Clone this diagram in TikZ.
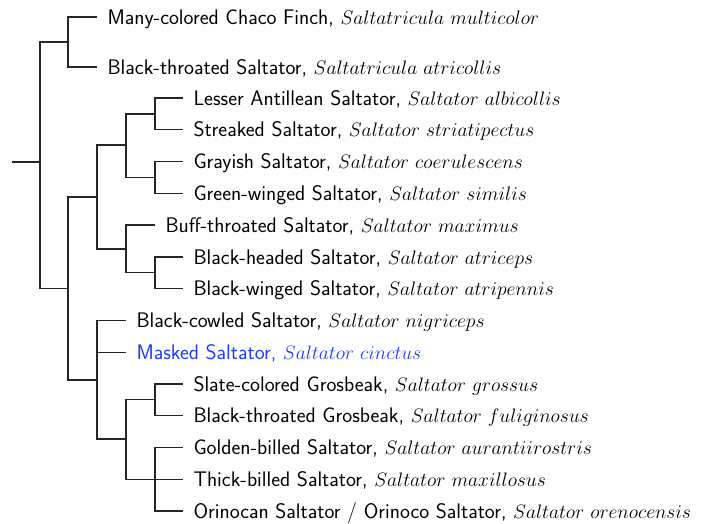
\RequirePackage{fix-cm}
\documentclass[tikz,border=0pt]{standalone}
\usepackage{fontspec}
\usepackage{xcolor}
\definecolor{maskblue}{RGB}{30,60,255}
\newcommand\sci[1]{{\fontsize{19.5}{22}\selectfont$#1$}}
\begin{document}
\begin{tikzpicture}[x=1pt,y=-1pt,
  br/.style={line width=1.3pt,draw=black!85},
  lbl/.style={anchor=base west,inner sep=0pt,font=\fontsize{21.1}{24}\selectfont\sffamily}]
\useasboundingbox (0,0) rectangle (701,524);
% internal nodes
\coordinate (root) at (12,162);
\coordinate (A) at (40,162);
\coordinate (B) at (68,42);
\coordinate (D) at (68,288.5);
\coordinate (C) at (97,197);
\coordinate (G) at (97,380);
\coordinate (E) at (126,145);
\coordinate (F) at (126,249);
\coordinate (E1) at (155,113.9);
\coordinate (E2) at (155,177.4);
\coordinate (F2) at (155,272.8);
\coordinate (H) at (126,439);
\coordinate (H1) at (155,399.8);
\coordinate (H2) at (155,479.3);
% tips
\coordinate (t1) at (97,17);
\coordinate (t2) at (97,67);
\coordinate (t3) at (183,98);
\coordinate (t4) at (183,129.8);
\coordinate (t5) at (183,161.5);
\coordinate (t6) at (183,193.3);
\coordinate (t7) at (155,225.1);
\coordinate (t8) at (183,256.9);
\coordinate (t9) at (183,288.6);
\coordinate (t10) at (126,320.4);
\coordinate (t11) at (126,352.2);
\coordinate (t12) at (183,383.9);
\coordinate (t13) at (183,415.7);
\coordinate (t14) at (183,447.5);
\coordinate (t15) at (183,479.3);
\coordinate (t16) at (183,511);
% labels
\node[lbl] (n1) at ([xshift=10.3pt,yshift=-7.1pt]t1) {Many-colored Chaco Finch, \sci{Saltatricula\ multicolor}};
\node[lbl] (n2) at ([xshift=10.3pt,yshift=-7.1pt]t2) {Black-throated Saltator, \sci{Saltatricula\ atricollis}};
\node[lbl] (n3) at ([xshift=10.3pt,yshift=-7.1pt]t3) {Lesser Antillean Saltator, \sci{Saltator\ albicollis}};
\node[lbl] (n4) at ([xshift=10.3pt,yshift=-7.1pt]t4) {Streaked Saltator, \sci{Saltator\ striatipectus}};
\node[lbl] (n5) at ([xshift=10.3pt,yshift=-7.1pt]t5) {Grayish Saltator, \sci{Saltator\ coerulescens}};
\node[lbl] (n6) at ([xshift=10.3pt,yshift=-7.1pt]t6) {Green-winged Saltator, \sci{Saltator\ similis}};
\node[lbl] (n7) at ([xshift=10.3pt,yshift=-7.1pt]t7) {Buff-throated Saltator, \sci{Saltator\ maximus}};
\node[lbl] (n8) at ([xshift=10.3pt,yshift=-7.1pt]t8) {Black-headed Saltator, \sci{Saltator\ atriceps}};
\node[lbl] (n9) at ([xshift=10.3pt,yshift=-7.1pt]t9) {Black-winged Saltator, \sci{Saltator\ atripennis}};
\node[lbl] (n10) at ([xshift=10.3pt,yshift=-7.1pt]t10) {Black-cowled Saltator, \sci{Saltator\ nigriceps}};
\node[lbl,text=maskblue] (n11) at ([xshift=10.3pt,yshift=-7.1pt]t11) {Masked Saltator, \sci{Saltator\ cinctus}};
\node[lbl] (n12) at ([xshift=10.3pt,yshift=-7.1pt]t12) {Slate-colored Grosbeak, \sci{Saltator\ grossus}};
\node[lbl] (n13) at ([xshift=10.3pt,yshift=-7.1pt]t13) {Black-throated Grosbeak, \sci{Saltator\ fuliginosus}};
\node[lbl] (n14) at ([xshift=10.3pt,yshift=-7.1pt]t14) {Golden-billed Saltator, \sci{Saltator\ aurantiirostris}};
\node[lbl] (n15) at ([xshift=10.3pt,yshift=-7.1pt]t15) {Thick-billed Saltator, \sci{Saltator\ maxillosus}};
\node[lbl] (n16) at ([xshift=10.3pt,yshift=-7.1pt]t16) {Orinocan Saltator / Orinoco Saltator, \sci{Saltator\ orenocensis}};
% branches
\draw[br] (root) -- (A);
\draw[br] (A) |- (B); \draw[br] (A) |- (D);
\draw[br] (B) |- (t1); \draw[br] (B) |- (t2);
\draw[br] (D) |- (C); \draw[br] (D) |- (G);
\draw[br] (C) |- (E); \draw[br] (C) |- (F);
\draw[br] (E) |- (E1); \draw[br] (E) |- (E2);
\draw[br] (E1) |- (t3); \draw[br] (E1) |- (t4);
\draw[br] (E2) |- (t5); \draw[br] (E2) |- (t6);
\draw[br] (F) |- (t7); \draw[br] (F) |- (F2);
\draw[br] (F2) |- (t8); \draw[br] (F2) |- (t9);
\draw[br] (G) |- (t10); \draw[br] (G) |- (t11); \draw[br] (G) |- (H);
\draw[br] (H) |- (H1); \draw[br] (H) |- (H2);
\draw[br] (H1) |- (t12); \draw[br] (H1) |- (t13);
\draw[br] (H2) |- (t14); \draw[br] (H2) |- (t15); \draw[br] (H2) |- (t16);
\end{tikzpicture}
\end{document}
